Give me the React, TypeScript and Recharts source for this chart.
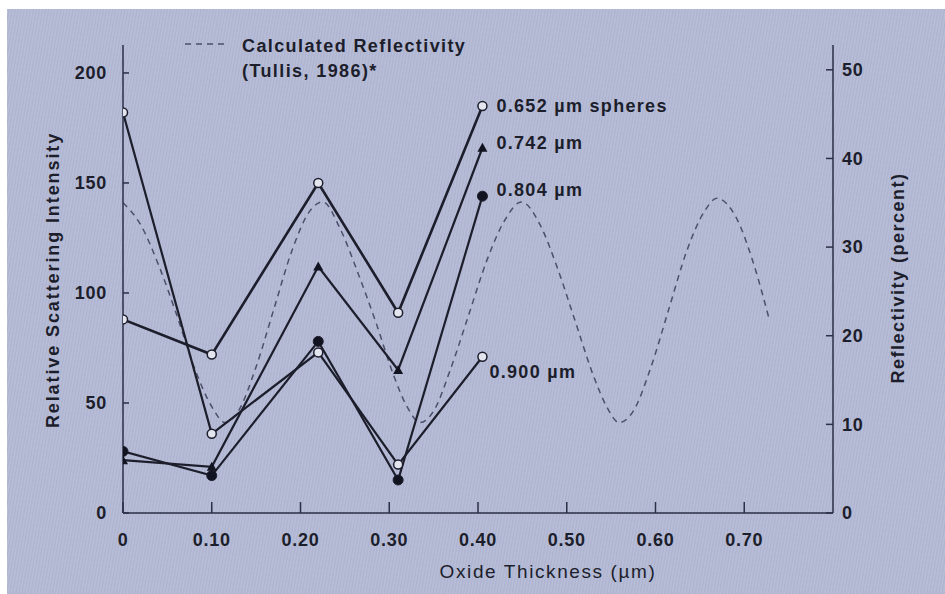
import React from 'react';
import { LineChart, Line, XAxis, YAxis, LabelList } from 'recharts';

// Oxide thickness (µm) of the measured samples
const thickness = [0, 0.1, 0.22, 0.31, 0.405];
// Relative scattering intensity per sphere size
const s652 = [88, 72, 150, 91, 185];
const s742 = [24, 21, 112, 65, 166];
const s804 = [28, 17, 78, 15, 144];
const s900 = [182, 36, 73, 22, 71];

// Calculated reflectivity (percent), dashed curve
const reflThickness = [0, 0.02, 0.04, 0.06, 0.08, 0.1, 0.115, 0.13, 0.15, 0.17, 0.19, 0.21, 0.225, 0.245, 0.265, 0.285, 0.305, 0.32, 0.335, 0.35, 0.37, 0.39, 0.41, 0.43, 0.449, 0.47, 0.49, 0.51, 0.53, 0.545, 0.559, 0.575, 0.595, 0.615, 0.635, 0.655, 0.669, 0.69, 0.71, 0.728];
const reflValues = [35, 32.5, 28, 22.5, 16.5, 12, 10.2, 11.5, 16.5, 23, 29.5, 34, 35.1, 32, 27, 21.5, 15.5, 12, 10.2, 11.5, 16.5, 22.5, 28.5, 33, 35.1, 32.5, 27.5, 21.5, 15.5, 12, 10.2, 11.5, 16.5, 23, 29.5, 34, 35.5, 33.5, 28.3, 21.9];

const xTicks = [0, 0.1, 0.2, 0.3, 0.4, 0.5, 0.6, 0.7];
const leftTicks = [0, 50, 100, 150, 200];
const rightTicks = [0, 10, 20, 30, 40, 50];

const seriesLabels = ['0.652 µm spheres', '0.742 µm', '0.804 µm', '0.900 µm'];

const toPoints = (vals: number[]) => thickness.map((t, i) => ({ t, v: vals[i] }));
const reflData = reflThickness.map((t, i) => ({ t, r: reflValues[i] }));

const INK = '#1d1e2c';
const FONT = '"Liberation Sans", Arial, Helvetica, sans-serif';

const OpenCircle = (p: any) => {
  if (p.cx == null || p.cy == null) return <g key={`oc-${p.index}`} />;
  return <circle key={`oc-${p.index}`} cx={p.cx} cy={p.cy} r={4.5} fill="#e3e5ef" stroke={INK} strokeWidth={1.5} />;
};
const FilledCircle = (p: any) => {
  if (p.cx == null || p.cy == null) return <g key={`fc-${p.index}`} />;
  return <circle key={`fc-${p.index}`} cx={p.cx} cy={p.cy} r={5} fill="#121320" stroke={INK} strokeWidth={1} />;
};
const Triangle = (p: any) => {
  if (p.cx == null || p.cy == null) return <g key={`tr-${p.index}`} />;
  const { cx, cy } = p;
  return <path key={`tr-${p.index}`} d={`M${cx},${cy - 5} L${cx + 5},${cy + 4} L${cx - 5},${cy + 4} Z`} fill="#121320" />;
};

const endLabel = (text: string, dx: number, dy: number) => (p: any) => {
  if (p.index !== thickness.length - 1) return null;
  return (
    <text x={p.x + dx} y={p.y + dy} fill={INK} fontFamily={FONT} fontWeight="bold" fontSize={18} letterSpacing={1.3}>
      {text}
    </text>
  );
};

const textStyle = { fill: INK, fontFamily: FONT, fontWeight: 'bold' as const, fontSize: 18 };

export default function App() {
  return (
    <div style={{ position: 'absolute', left: 0, top: 0, width: 945, height: 594, background: '#ffffff', overflow: 'hidden' }}>
      <div
        style={{
          position: 'absolute',
          left: 7,
          top: 9,
          width: 938,
          height: 585,
          background: '#b3b9d5',
          backgroundImage: 'repeating-linear-gradient(100deg, rgba(255,255,255,0.06) 0px, rgba(255,255,255,0.06) 1px, rgba(0,0,0,0.03) 2px, rgba(0,0,0,0) 3px)',
        }}
      />
      <div style={{ position: 'absolute', left: 0, top: 0 }}>
        <LineChart width={945} height={594} margin={{ top: 45, right: 52, bottom: 41, left: 63 }}>
          <XAxis
            dataKey="t"
            type="number"
            domain={[0, 0.8]}
            ticks={xTicks}
            allowDataOverflow
            tickFormatter={(v: number) => (v === 0 ? '0' : v.toFixed(2))}
            tickSize={-11}
            tickMargin={31}
            height={40}
            axisLine={{ stroke: '#2b2f47', strokeWidth: 1.5 }}
            tickLine={{ stroke: '#2b2f47', strokeWidth: 1.5 }}
            tick={{ ...textStyle, letterSpacing: 0.7 }}
          />
          <YAxis
            yAxisId="left"
            orientation="left"
            domain={[0, 212.7]}
            ticks={leftTicks}
            allowDataOverflow
            width={60}
            tickSize={-6}
            tickMargin={22}
            axisLine={{ stroke: '#2b2f47', strokeWidth: 1.5 }}
            tickLine={{ stroke: '#2b2f47', strokeWidth: 1.5 }}
            tick={{ ...textStyle, letterSpacing: 0.7 }}
          />
          <YAxis
            yAxisId="right"
            orientation="right"
            domain={[0, 52.8]}
            ticks={rightTicks}
            allowDataOverflow
            width={60}
            tickSize={-7}
            tickMargin={16}
            axisLine={{ stroke: '#2b2f47', strokeWidth: 1.5 }}
            tickLine={{ stroke: '#2b2f47', strokeWidth: 1.5 }}
            tick={{ ...textStyle, letterSpacing: 0.7 }}
          />

          <Line
            yAxisId="right"
            data={reflData}
            dataKey="r"
            type="monotone"
            stroke="#4b5068"
            strokeWidth={1.5}
            strokeDasharray="6 5"
            dot={false}
            activeDot={false}
            isAnimationActive={false}
          />

          <Line yAxisId="left" data={toPoints(s900)} dataKey="v" type="linear" stroke={INK} strokeWidth={2.2} dot={OpenCircle} activeDot={false} isAnimationActive={false}>
            <LabelList dataKey="v" content={endLabel(seriesLabels[3], 7, 21)} />
          </Line>
          <Line yAxisId="left" data={toPoints(s804)} dataKey="v" type="linear" stroke={INK} strokeWidth={2.2} dot={FilledCircle} activeDot={false} isAnimationActive={false}>
            <LabelList dataKey="v" content={endLabel(seriesLabels[2], 14, 0)} />
          </Line>
          <Line yAxisId="left" data={toPoints(s742)} dataKey="v" type="linear" stroke={INK} strokeWidth={2.2} dot={Triangle} activeDot={false} isAnimationActive={false}>
            <LabelList dataKey="v" content={endLabel(seriesLabels[1], 14, 1)} />
          </Line>
          <Line yAxisId="left" data={toPoints(s652)} dataKey="v" type="linear" stroke={INK} strokeWidth={2.6} dot={OpenCircle} activeDot={false} isAnimationActive={false}>
            <LabelList dataKey="v" content={endLabel(seriesLabels[0], 14, 6)} />
          </Line>

          <g>
            <line x1={185} y1={44} x2={228} y2={44} stroke="#4b5068" strokeWidth={1.5} strokeDasharray="6 5" />
            <text x={242} y={52} fill={INK} fontFamily={FONT} fontWeight="bold" fontSize={18} letterSpacing={1.4}>Calculated Reflectivity</text>
            <text x={242} y={77} fill={INK} fontFamily={FONT} fontWeight="bold" fontSize={18} letterSpacing={1.4}>(Tullis, 1986)*</text>
            <text x={548} y={578} textAnchor="middle" fill={INK} fontFamily={FONT} fontSize={19} letterSpacing={1.6}>{'Oxide Thickness (µm)'}</text>
            <text x={0} y={0} transform="translate(59,280) rotate(-90)" textAnchor="middle" fill={INK} fontFamily={FONT} fontWeight="bold" fontSize={18} letterSpacing={1.9}>Relative Scattering Intensity</text>
            <text x={0} y={0} transform="translate(904,278) rotate(-90)" textAnchor="middle" fill={INK} fontFamily={FONT} fontWeight="bold" fontSize={18} letterSpacing={1.5}>Reflectivity (percent)</text>
          </g>
        </LineChart>
      </div>
    </div>
  );
}
